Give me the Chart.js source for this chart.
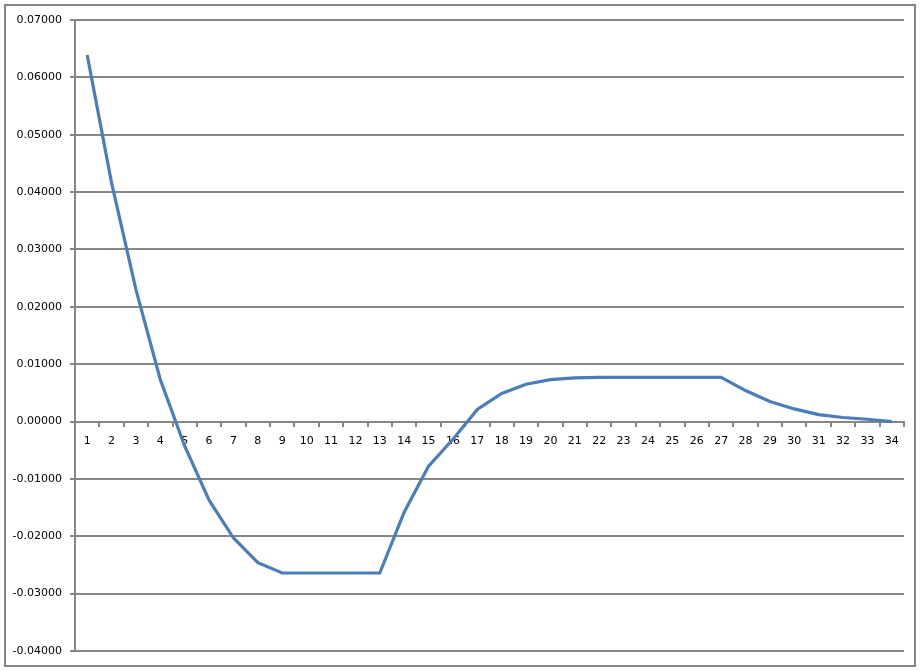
<!DOCTYPE html>
<html>
<head>
<meta charset="utf-8">
<script src="https://cdn.jsdelivr.net/npm/chart.js@4/dist/chart.umd.min.js"></script>
<style>
  html, body { margin: 0; padding: 0; background: #fff; }
  #wrap { width: 920px; height: 671px; }
</style>
</head>
<body>
<div id="wrap"><canvas id="lineChart" width="920" height="671"></canvas></div>
<script>
// categories 1..34
const categories = ["1", "2", "3", "4", "5", "6", "7", "8", "9", "10", "11", "12", "13", "14", "15", "16", "17",
    "18", "19", "20", "21", "22", "23", "24", "25", "26", "27", "28", "29", "30", "31", "32", "33", "34"];

// series values
const seriesValues = [0.0639, 0.0416, 0.0230, 0.0073, -0.0043, -0.0137, -0.0203, -0.0246, -0.0264, -0.0264,
    -0.0264, -0.0264, -0.0264, -0.0158, -0.0078, -0.0031, 0.0021, 0.0049, 0.0065, 0.0073, 0.0076, 0.0077,
    0.0077, 0.0077, 0.0077, 0.0077, 0.0077, 0.0054, 0.0035, 0.0022, 0.0012, 0.0007, 0.0004, 0.0000];

const yMin = -0.04;
const yMax = 0.07;
const yStep = 0.01;

const gridGray = "#868686";

// ✅ outer frame round the whole chart
const framePlugin = {
    id: "frame",
    afterDraw(chart) {
        const ctx = chart.ctx;
        ctx.save();
        ctx.strokeStyle = gridGray;
        ctx.lineWidth = 2;
        ctx.strokeRect(5, 5, 910, 661);
        ctx.restore();
    },
};

const ctx = document.getElementById("lineChart").getContext("2d");
new Chart(ctx, {
    type: "line",
    data: {
        labels: categories,
        datasets: [{
            data: seriesValues,
            borderColor: "#4A7EBB",
            borderWidth: 3.2,
            pointRadius: 0,
            tension: 0,
            fill: false,
        }],
    },
    options: {
        responsive: false,
        animation: false,
        layout: { padding: { left: 0, top: 20, right: 16, bottom: 20 } },
        plugins: { legend: { display: false }, tooltip: { enabled: false } },
        scales: {
            x: {
                type: "category",
                position: { y: 0 },
                offset: true,
                grid: { offset: true, drawOnChartArea: false, tickLength: 4, color: gridGray, lineWidth: 2 },
                border: { color: gridGray, width: 2 },
                ticks: {
                    autoSkip: false, maxRotation: 0, padding: 9, color: "#000",
                    font: { family: "DejaVu Sans", size: 11 },
                },
            },
            y: {
                min: yMin,
                max: yMax,
                grid: { color: gridGray, lineWidth: 2, tickLength: 5 },
                border: { color: gridGray, width: 2 },
                ticks: {
                    stepSize: yStep, padding: 8, color: "#000",
                    font: { family: "DejaVu Sans", size: 11 },
                    callback: (v) => Number(v).toFixed(5),
                },
                afterFit: (scale) => { scale.width = 75; },
            },
        },
    },
    plugins: [framePlugin],
});
</script>
</body>
</html>
